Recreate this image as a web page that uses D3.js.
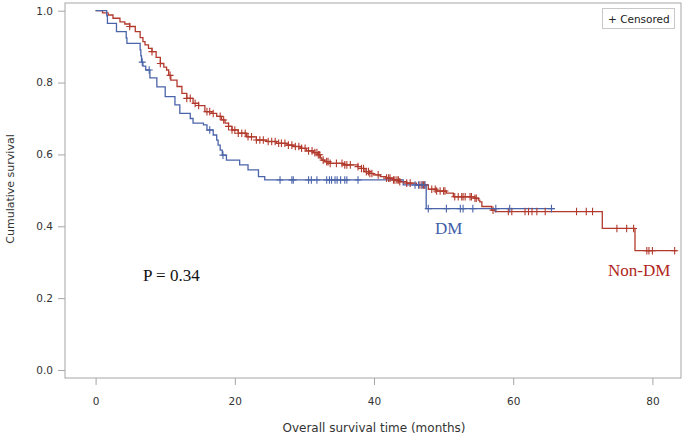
<!DOCTYPE html>
<html><head><meta charset="utf-8">
<script src="https://cdn.jsdelivr.net/npm/d3@7"></script>
<style>html,body{margin:0;padding:0;background:#fff;}svg{display:block;}</style>
</head><body>
<svg id="c" width="685" height="436"></svg>
<script>
// ---------- data ----------
const xTicks = [0, 20, 40, 60, 80];
const yTicks = [0.0, 0.2, 0.4, 0.6, 0.8, 1.0];
const groups = ["Non-DM", "DM"];

// Non-DM step times (months) and survival after each drop
const nonDmTimes = [1.0,1.8,2.5,3.5,4.2,4.9,5.7,6.4,6.8,7.1,7.6,8.1,8.7,9.3,9.8,10.2,10.5,10.8,11.7,12.4,13.1,14.0,14.8,15.7,16.7,17.4,18.1,18.6,19.1,19.6,20.5,21.7,23.1,24.6,26.0,27.5,28.4,29.4,30.3,31.3,32.0,32.3,32.5,32.9,33.7,35.6,37.7,38.2,38.7,39.4,39.9,40.9,41.8,42.8,43.7,44.7,46.1,47.8,49.0,50.4,51.4,54.5,55.0,55.2,55.5,56.9,57.4,72.8,77.5];
const nonDmSurv  = [0.994,0.988,0.979,0.969,0.963,0.956,0.942,0.925,0.914,0.905,0.895,0.886,0.870,0.853,0.843,0.835,0.820,0.807,0.789,0.770,0.756,0.742,0.736,0.719,0.714,0.706,0.696,0.687,0.678,0.668,0.659,0.649,0.640,0.636,0.631,0.626,0.622,0.617,0.610,0.605,0.599,0.590,0.584,0.580,0.575,0.571,0.566,0.561,0.552,0.547,0.543,0.538,0.534,0.529,0.524,0.520,0.515,0.503,0.498,0.492,0.482,0.478,0.473,0.468,0.455,0.445,0.441,0.394,0.332];
const nonDmEnd = 83.5;
const nonDmCensor = [4.9,8.1,9.3,10.7,13.1,13.6,14.3,14.8,16.0,16.4,16.9,17.9,18.4,19.1,19.6,20.0,20.5,21.0,21.5,21.9,22.4,23.1,23.6,24.1,24.8,25.3,25.8,26.3,26.7,27.2,27.7,28.2,28.7,29.2,29.6,30.1,30.6,31.1,31.5,31.8,32.0,32.2,32.7,33.2,33.4,33.7,34.6,35.4,35.8,36.1,36.6,37.7,38.2,38.5,38.9,39.2,39.4,39.7,40.6,41.8,42.1,42.3,42.8,43.0,43.3,43.5,43.7,44.7,45.2,46.6,46.9,47.1,47.3,48.3,48.8,49.0,49.5,50.0,50.2,51.6,52.1,52.6,52.8,53.1,53.8,54.0,54.5,54.7,57.1,59.3,59.8,61.7,62.2,62.7,63.4,64.6,69.1,70.5,71.4,74.9,76.3,77.3,79.2,79.5,80.0,83.2];

// DM
const dmTimes = [1.6,1.7,3.0,4.4,4.5,6.4,6.5,6.6,6.8,7.2,7.8,8.8,10.0,11.4,12.1,13.6,14.0,15.5,16.0,16.9,17.4,17.6,17.9,18.2,18.8,20.7,21.9,23.4,24.3,44.2,47.5];
const dmSurv  = [0.986,0.965,0.942,0.924,0.909,0.891,0.874,0.857,0.846,0.835,0.813,0.788,0.761,0.738,0.714,0.700,0.687,0.682,0.668,0.654,0.640,0.626,0.612,0.598,0.584,0.571,0.557,0.538,0.529,0.515,0.449];
const dmEnd = 65.8;
const dmCensor = [6.7,7.7,16.4,18.3,26.5,28.2,28.4,30.6,31.0,31.8,33.2,33.6,33.9,34.4,34.7,35.2,35.8,36.1,37.7,45.9,46.4,46.9,47.3,47.8,50.4,52.4,52.8,54.2,57.5,59.5,65.5];

// ---------- layout ----------
const svg = d3.select("#c");
const frame = {left: 65, right: 681, top: 3, bottom: 378};
const x = d3.scaleLinear().domain([0, 80]).range([95.6, 652.4]);
const y = d3.scaleLinear().domain([0, 1]).range([370, 10.7]);
const axisCol = "#a6a6a6", textCol = "#333";
const colors = {"Non-DM": "#b23a2d", "DM": "#4a64aa"};
const font = "'DejaVu Sans', sans-serif";

// frame
svg.append("rect").attr("x", frame.left).attr("y", frame.top)
  .attr("width", frame.right - frame.left).attr("height", frame.bottom - frame.top)
  .attr("fill", "none").attr("stroke", axisCol).attr("stroke-width", 1);

// axes
const gx = svg.append("g").attr("transform", `translate(0,${frame.bottom})`)
  .call(d3.axisBottom(x).tickValues(xTicks).tickFormat(d3.format("d")).tickSize(7).tickPadding(13));
const gy = svg.append("g").attr("transform", `translate(${frame.left},0)`)
  .call(d3.axisLeft(y).tickValues(yTicks).tickFormat(d3.format(".1f")).tickSize(7).tickPadding(5));
[gx, gy].forEach(g => {
  g.select(".domain").remove();
  g.selectAll(".tick line").attr("stroke", axisCol);
  g.selectAll(".tick text").attr("fill", textCol).style("font-family", font).style("font-size", "10.5px");
});

svg.append("text").attr("x", 374).attr("y", 432).attr("text-anchor", "middle")
  .attr("fill", textCol).style("font-family", font).style("font-size", "12px")
  .text("Overall survival time (months)");
svg.append("text").attr("transform", "translate(14,189) rotate(-90)").attr("text-anchor", "middle")
  .attr("fill", textCol).style("font-family", font).style("font-size", "11px")
  .text("Cumulative survival");

// curves
function stepPoints(times, surv, end) {
  const pts = [[0, 1]];
  times.forEach((t, i) => pts.push([t, surv[i]]));
  pts.push([end, surv[surv.length - 1]]);
  return pts;
}
function survAt(times, surv, t) {
  let v = 1;
  for (let i = 0; i < times.length; i++) { if (times[i] <= t) v = surv[i]; else break; }
  return v;
}
const line = d3.line().x(d => x(d[0])).y(d => y(d[1])).curve(d3.curveStepAfter);
const series = [
  {name: "Non-DM", times: nonDmTimes, surv: nonDmSurv, end: nonDmEnd, cens: nonDmCensor},
  {name: "DM", times: dmTimes, surv: dmSurv, end: dmEnd, cens: dmCensor}
];
series.forEach(s => {
  svg.append("path").datum(stepPoints(s.times, s.surv, s.end)).attr("d", line)
    .attr("fill", "none").attr("stroke", colors[s.name]).attr("stroke-width", 1.3);
});
series.forEach(s => {
  const g = svg.append("g").attr("stroke", colors[s.name]).attr("stroke-width", 1.1);
  s.cens.forEach(t => {
    const cx = x(t), cy = y(survAt(s.times, s.surv, t));
    g.append("path").attr("d", `M${cx},${cy-3.8}V${cy+3.8}M${cx-3.5},${cy}H${cx+3.5}`);
  });
});

// legend
svg.append("rect").attr("x", 602.5).attr("y", 8.5).attr("width", 72).attr("height", 20)
  .attr("fill", "#fff").attr("stroke", "#c8c8c8");
svg.append("text").attr("x", 608).attr("y", 22.5).attr("fill", "#222")
  .style("font-family", font).style("font-size", "10.5px").text("+ Censored");

// annotations
const serif = "'Liberation Serif', 'Times New Roman', serif";
svg.append("text").attr("x", 435).attr("y", 234).attr("fill", "#3f5ea8")
  .style("font-family", serif).style("font-size", "17px").text("DM");
svg.append("text").attr("x", 608).attr("y", 276).attr("fill", "#b0261c")
  .style("font-family", serif).style("font-size", "17px").text("Non-DM");
svg.append("text").attr("x", 143).attr("y", 281).attr("fill", "#111")
  .style("font-family", serif).style("font-size", "17px").text("P = 0.34");
</script>
</body></html>
